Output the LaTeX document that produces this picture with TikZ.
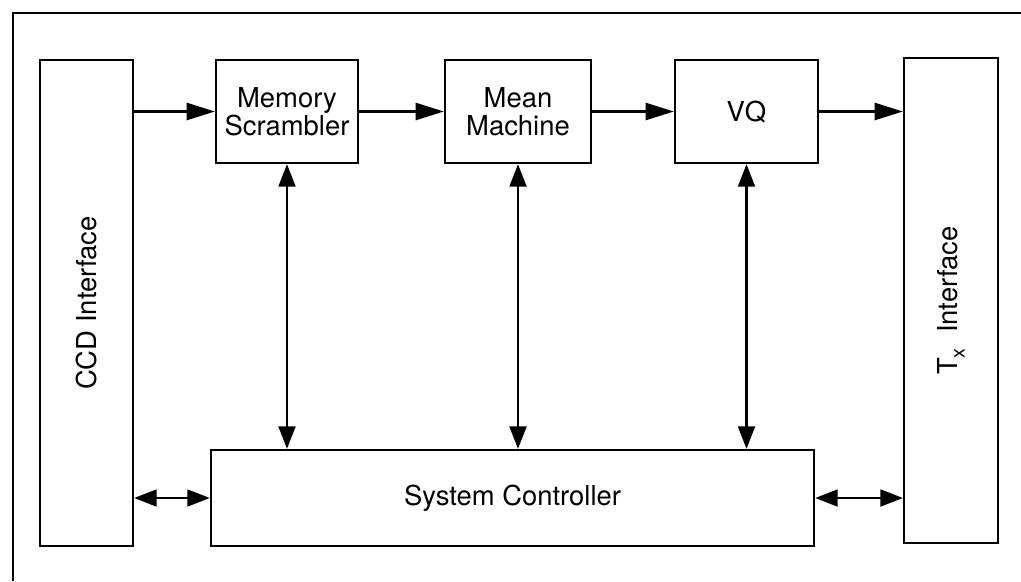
\documentclass[tikz,border=0pt]{standalone}
\usepackage{fontspec}
\setmainfont{TeX Gyre Heros}
\usetikzlibrary{arrows.meta,positioning}

\tikzset{
  blk/.style={draw, line width=1.6pt, inner sep=0pt, align=center,
    font=\fontsize{19.5}{20}\selectfont},
  lbl/.style={font=\fontsize{19.5}{20}\selectfont, rotate=90},
  flow/.style={line width=2pt, -{Triangle[length=20pt,width=12pt]}},
  dflow/.style={line width=1.6pt, {Triangle[length=16pt,width=12pt]}-{Triangle[length=16pt,width=12pt]}},
}

\begin{document}
\begin{tikzpicture}[x=0.025cm,y=-0.025cm]
\useasboundingbox (0,0) rectangle (1021,581);

% Frame
\draw[line width=1.6pt] (13,581) -- (13,13) -- (1021,13);

% Blocks
\node[blk, minimum width=2.325cm, minimum height=12.15cm] (ccd) at (86.5,303) {};
\node[lbl] (ccdlbl) at (ccd) {CCD Interface};
\node[blk, minimum width=3.55cm, minimum height=2.575cm] (ms) at (287,111.5) {Memory\\Scrambler};
\node[blk, minimum width=3.65cm, minimum height=2.575cm] (mm) at (518,111.5) {Mean\\Machine};
\node[blk, minimum width=3.575cm, minimum height=2.575cm] (vq) at (746.5,111.5) {VQ};
\node[blk, minimum width=2.35cm, minimum height=12.125cm] (tx) at (951,300.5) {};
\node[lbl] (txlbl) at (tx) {T\raisebox{-5pt}{\fontsize{14}{14}\selectfont x}~~Interface};
\node[blk, minimum width=15.075cm, minimum height=2.4cm] (sc) at (512.5,498) {System Controller};

% Data path
\draw[flow] (ccd.east |- ms.west) -- (ms.west);
\draw[flow] (ms) -- (mm);
\draw[flow] (mm) -- (vq);
\draw[flow] (vq.east) -- (vq.east -| tx.west);

% Control lines
\draw[dflow] (ms.south) -- (ms.south |- sc.north);
\draw[dflow] (mm.south) -- (mm.south |- sc.north);
\draw[dflow] (vq.south) -- (vq.south |- sc.north);
\draw[dflow] (ccd.east |- sc.west) -- (sc.west);
\draw[dflow] (sc.east) -- (sc.east -| tx.west);
\end{tikzpicture}
\end{document}
